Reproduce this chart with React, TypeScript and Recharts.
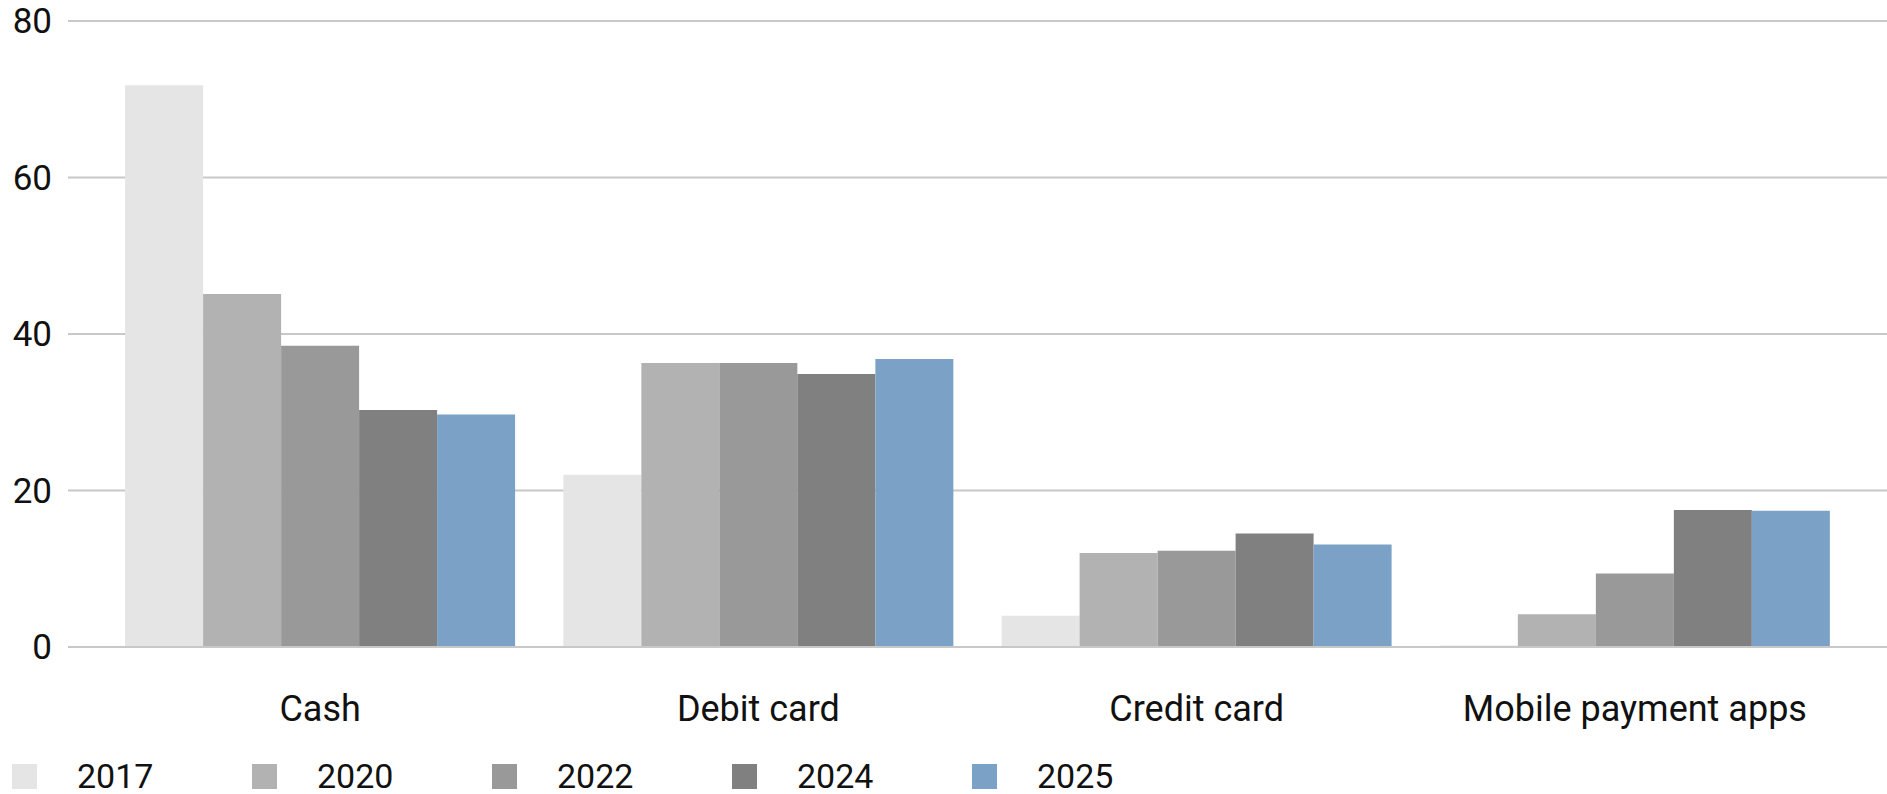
import React from "react";
import { BarChart, Bar, XAxis, YAxis, CartesianGrid } from "recharts";

const categories = ["Cash", "Debit card", "Credit card", "Mobile payment apps"];
const years = ["2017", "2020", "2022", "2024", "2025"];
const v2017 = [71.8, 22.0, 4.0, 0.2];
const v2020 = [45.1, 36.3, 12.0, 4.2];
const v2022 = [38.5, 36.3, 12.3, 9.4];
const v2024 = [30.3, 34.9, 14.5, 17.5];
const v2025 = [29.7, 36.8, 13.1, 17.4];
const yTicks = [0, 20, 40, 60, 80];
const colors = ["#e5e5e5", "#b2b2b2", "#999999", "#808080", "#7ba2c6"];

const seriesValues = [v2017, v2020, v2022, v2024, v2025];
const data = categories.map((c, i) => {
  const row: Record<string, string | number> = { name: c };
  years.forEach((y, k) => {
    row[y] = seriesValues[k][i];
  });
  return row;
});

const FONT = "Roboto, 'Noto Sans', sans-serif";

export default function App() {
  return (
    <div style={{ position: "absolute", left: 0, top: 0, width: 1887, height: 794, background: "#fff", fontFamily: FONT }}>
      <BarChart
        width={1887}
        height={794}
        data={data}
        margin={{ top: 21, right: 0, bottom: 0, left: 0 }}
        barCategoryGap="5.5%"
        barGap={0}
      >
        <CartesianGrid vertical={false} stroke="#c8c8c8" strokeWidth={2} />
        <XAxis
          dataKey="name"
          height={147}
          padding={{ left: 33, right: 33 }}
          tickLine={false}
          tickSize={0}
          tickMargin={48}
          axisLine={{ stroke: "#c8c8c8", strokeWidth: 2 }}
          tick={{ fontSize: 36, fill: "#111", fontFamily: FONT }}
          interval={0}
        />
        <YAxis
          width={68}
          domain={[0, 80]}
          ticks={yTicks}
          axisLine={false}
          tickLine={false}
          tickSize={0}
          tickMargin={16}
          tick={{ fontSize: 35, fill: "#111", fontFamily: FONT }}
        />
        {years.map((y, k) => (
          <Bar key={y} dataKey={y} fill={colors[k]} isAnimationActive={false} />
        ))}
      </BarChart>
      <div style={{ position: "absolute", left: 0, top: 764, display: "flex", height: 25 }}>
        {years.map((y, k) => (
          <div key={y} style={{ width: 240, display: "flex", alignItems: "center", height: 25 }}>
            <div style={{ marginLeft: 12, width: 25, height: 25, background: colors[k] }} />
            <span style={{ marginLeft: 40, fontSize: 34, lineHeight: "25px", color: "#111", fontFamily: FONT }}>{y}</span>
          </div>
        ))}
      </div>
    </div>
  );
}
